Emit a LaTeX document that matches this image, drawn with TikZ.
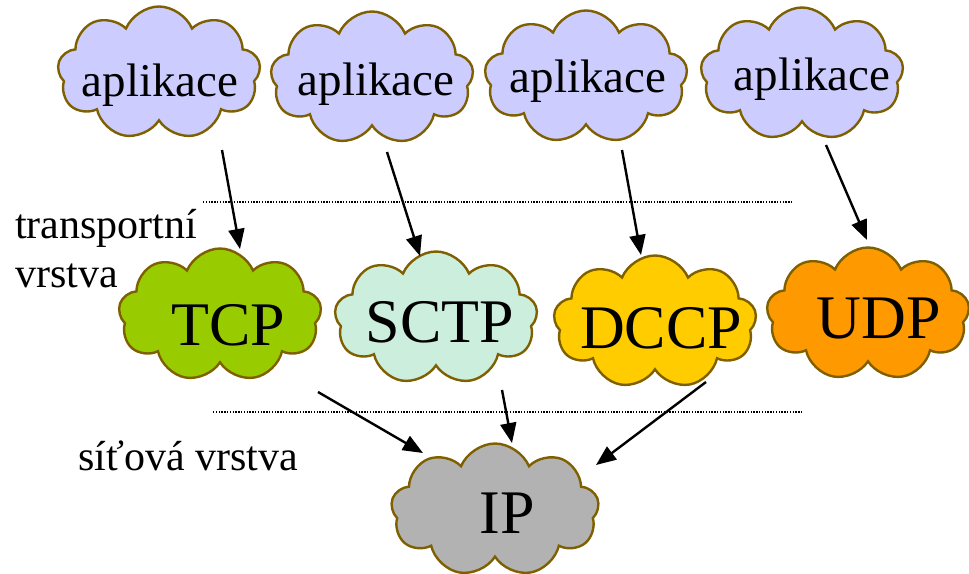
\documentclass[tikz,border=0pt]{standalone}
\usepackage{fontspec}
\setmainfont{Liberation Serif}
\usetikzlibrary{shapes.symbols,arrows.meta}
\definecolor{cloudedge}{HTML}{7F6000}
\definecolor{appfill}{HTML}{CCCCFF}
\definecolor{tcpfill}{HTML}{99CC00}
\definecolor{sctpfill}{HTML}{CCEEDD}
\definecolor{dccpfill}{HTML}{FFCC00}
\definecolor{udpfill}{HTML}{FF9900}
\definecolor{ipfill}{HTML}{B2B2B2}
\tikzset{
  cl/.style={cloud, cloud puffs=9, cloud puff arc=135, cloud ignores aspect,
    draw=cloudedge, line width=2.4pt, inner sep=0pt,
    minimum width=203pt, minimum height=133pt},
  apptxt/.style={font=\rmfamily\fontsize{47}{56}\selectfont, anchor=base, inner sep=0pt},
  prottxt/.style={font=\rmfamily\fontsize{62}{72}\selectfont, anchor=base, inner sep=0pt},
  sidetxt/.style={font=\rmfamily\fontsize{42}{50}\selectfont, anchor=base west, inner sep=0pt},
  arr/.style={-{Triangle[length=20pt,width=16pt]}, line width=2.4pt, black},
  layerline/.style={line width=1.6pt, dash pattern=on 1.4pt off 1.4pt, black},
}
\begin{document}
\begin{tikzpicture}[x=1pt,y=-1pt]
\useasboundingbox (0,0) rectangle (969,573);
% application clouds
\node[cl, fill=appfill] (app1) at (159,73) {};
\node[cl, fill=appfill] (app2) at (372,78) {};
\node[cl, fill=appfill] (app3) at (586,77) {};
\node[cl, fill=appfill] (app4) at (802,74) {};
\node[apptxt] (t1) at (160,96) {aplikace};
\node[apptxt] (t2) at (376,95) {aplikace};
\node[apptxt] (t3) at (588,92) {aplikace};
\node[apptxt] (t4) at (812,90) {aplikace};
% transport clouds
\node[cl, fill=tcpfill] (tcp) at (220,315) {};
\node[cl, fill=sctpfill] (sctp) at (436,318) {};
\node[cl, fill=dccpfill] (dccp) at (655,322) {};
\node[cl, fill=udpfill] (udp) at (868,314) {};
\node[prottxt] (ttcp) at (228,345) {TCP};
\node[prottxt] (tsctp) at (440,342) {SCTP};
\node[prottxt] (tdccp) at (661,348) {DCCP};
\node[prottxt] (tudp) at (879,338) {UDP};
% network cloud
\node[cl, fill=ipfill, minimum width=208pt] (ip) at (495,510) {};
\node[prottxt] (tip) at (507,533) {IP};
% side labels
\node[sidetxt] (lt1) at (15,238) {transportní};
\node[sidetxt] (lt2) at (15,287) {vrstva};
\node[sidetxt] (ls) at (78,470) {síťová vrstva};
% layer lines
\coordinate (d1a) at (203,202);
\coordinate (d1b) at (793,202);
\coordinate (d2a) at (213,412);
\coordinate (d2b) at (803,412);
\draw[layerline] (d1a) -- (d1b);
\draw[layerline] (d2a) -- (d2b);
% arrows
\coordinate (s1) at (222,150); \coordinate (e1) at (240,249);
\coordinate (s2) at (387,152); \coordinate (e2) at (420,256);
\coordinate (s3) at (622,150); \coordinate (e3) at (641,255);
\coordinate (s4) at (826,145); \coordinate (e4) at (867,240);
\coordinate (s5) at (318,392); \coordinate (e5) at (423,453);
\coordinate (s6) at (502,390); \coordinate (e6) at (512,443);
\coordinate (s7) at (706,382); \coordinate (e7) at (596,465);
\draw[arr] (s1) -- (e1);
\draw[arr] (s2) -- (e2);
\draw[arr] (s3) -- (e3);
\draw[arr] (s4) -- (e4);
\draw[arr] (s5) -- (e5);
\draw[arr] (s6) -- (e6);
\draw[arr] (s7) -- (e7);
\end{tikzpicture}
\end{document}
